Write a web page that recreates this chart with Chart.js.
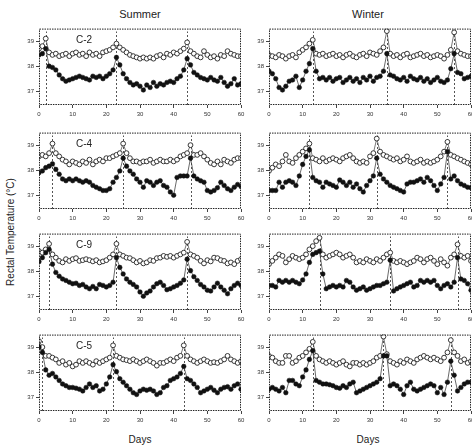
<!DOCTYPE html>
<html><head><meta charset="utf-8">
<script src="https://cdn.jsdelivr.net/npm/chart.js@4.4.1/dist/chart.umd.min.js"></script>
<style>
html,body{margin:0;padding:0;background:#fff;width:472px;height:448px;overflow:hidden;position:relative;font-family:"Liberation Sans",Arial,sans-serif;}
canvas{position:absolute;}
.t{position:absolute;color:#222;white-space:nowrap;transform:translate(-50%,-50%);}
</style></head><body>
<div class="t" style="left:140px;top:14px;font-size:11px;">Summer</div>
<div class="t" style="left:368px;top:14px;font-size:11px;">Winter</div>
<div class="t" style="left:140px;top:439px;font-size:10px;">Days</div>
<div class="t" style="left:368px;top:439px;font-size:10px;">Days</div>
<div class="t" style="left:10px;top:232px;font-size:10px;transform:translate(-50%,-50%) rotate(-90deg);">Rectal Temperature (°C)</div>
<script>
// ---------- data ----------
const days = Array.from({length:61},(_,i)=>i);
const xTicks = [0,10,20,30,40,50,60];
const yTicks = [37,38,39];
const panelLabels = ['C-2','','C-4','','C-9','','C-5',''];

const c2SummerOpen = [38.7,38.8,39.1,38.55,38.45,38.5,38.4,38.45,38.5,38.4,38.5,38.55,38.45,38.5,38.4,38.55,38.45,38.5,38.4,38.55,38.6,38.65,38.75,38.9,38.75,38.65,38.55,38.45,38.4,38.35,38.3,38.35,38.3,38.35,38.3,38.4,38.45,38.35,38.5,38.45,38.55,38.5,38.6,38.7,38.95,38.6,38.5,38.4,38.35,38.6,38.45,38.35,38.4,38.3,38.45,38.4,38.6,38.5,38.45,38.4,38.4];
const c2SummerFilled = [38.45,38.5,38.7,38.0,37.95,37.85,37.65,37.5,37.4,37.45,37.5,37.55,37.6,37.55,37.5,37.45,37.6,37.55,37.6,37.5,37.6,37.7,37.85,38.35,38.05,37.7,37.5,37.35,37.25,37.3,37.2,37.05,37.25,37.15,37.35,37.2,37.3,37.25,37.35,37.4,37.35,37.5,37.6,37.85,38.3,38.05,37.75,37.65,37.55,37.5,37.45,37.55,37.45,37.4,37.55,37.35,37.2,37.3,37.5,37.25,37.3];
const c2SummerEstrus = [2,23,44];

const c2WinterOpen = [38.45,38.4,38.35,38.45,38.4,38.3,38.4,38.45,38.35,38.55,38.65,38.75,38.9,39.05,38.5,38.45,38.5,38.4,38.45,38.5,38.4,38.45,38.35,38.45,38.5,38.4,38.35,38.45,38.5,38.4,38.55,38.5,38.45,38.6,38.75,39.4,38.5,38.4,38.45,38.35,38.45,38.5,38.35,38.4,38.45,38.5,38.4,38.45,38.35,38.4,38.45,38.4,38.3,38.45,38.65,39.35,38.6,38.5,38.45,38.4,38.4];
const c2WinterFilled = [37.8,37.7,37.5,37.15,37.05,37.2,37.4,37.45,37.6,37.15,37.45,37.8,38.1,38.7,37.8,37.5,37.55,37.45,37.55,37.4,37.5,37.55,37.35,37.45,37.55,37.4,37.5,37.35,37.55,37.45,37.6,37.4,37.55,37.6,37.8,38.5,37.65,37.6,37.5,37.45,37.55,37.4,37.6,37.5,37.45,37.55,37.4,37.5,37.35,37.45,37.55,37.4,37.35,37.45,37.9,38.5,37.75,37.7,37.5,37.55,37.6];
const c2WinterEstrus = [13,35,55];

const c4SummerOpen = [38.55,38.61,38.55,38.68,39.06,38.68,38.55,38.42,38.35,38.23,38.35,38.29,38.23,38.35,38.29,38.42,38.23,38.35,38.42,38.35,38.48,38.48,38.55,38.61,38.68,39.06,38.68,38.48,38.35,38.35,38.29,38.35,38.35,38.42,38.29,38.35,38.42,38.35,38.35,38.42,38.35,38.42,38.55,38.61,38.68,39.0,38.61,38.61,38.68,38.55,38.42,38.29,38.23,38.35,38.23,38.42,38.35,38.29,38.42,38.48,38.48];
const c4SummerFilled = [37.9,37.97,38.1,38.16,38.25,38.03,37.84,37.65,37.58,37.65,37.58,37.65,37.58,37.52,37.58,37.52,37.39,37.32,37.26,37.19,37.19,37.26,37.52,37.71,37.97,38.48,38.16,37.97,37.84,37.65,37.52,37.32,37.58,37.52,37.39,37.52,37.58,37.39,37.32,37.13,37.0,37.71,37.77,37.77,37.77,38.48,37.77,37.65,37.58,37.52,37.19,37.13,37.19,37.3,37.52,37.39,37.26,37.19,37.32,37.43,37.35];
const c4SummerEstrus = [4,25,45];

const c4WinterOpen = [37.97,38.1,38.23,38.16,38.35,38.61,38.35,38.29,38.48,38.61,38.74,38.87,39.06,38.48,38.42,38.35,38.48,38.35,38.42,38.48,38.42,38.35,38.48,38.55,38.61,38.48,38.35,38.29,38.35,38.29,38.55,38.68,39.26,38.74,38.61,38.55,38.48,38.42,38.48,38.35,38.42,38.55,38.35,38.29,38.35,38.42,38.29,38.35,38.29,38.35,38.42,38.55,38.74,39.13,38.61,38.55,38.48,38.42,38.35,38.29,38.23];
const c4WinterFilled = [37.19,37.19,37.19,37.52,37.32,37.52,37.58,37.52,37.39,37.77,38.23,38.55,38.81,37.71,37.58,37.52,37.32,37.52,37.45,37.39,37.32,37.61,37.52,37.39,37.52,37.32,37.45,37.26,37.13,37.39,37.58,37.77,38.48,37.84,37.65,37.52,37.39,37.32,37.26,37.19,37.13,37.45,37.52,37.52,37.58,37.65,37.52,37.71,37.58,37.39,37.19,37.45,37.71,38.74,37.65,37.77,37.58,37.45,37.39,37.32,37.3];
const c4WinterEstrus = [12,32,53];

const c9SummerOpen = [38.8,38.74,38.87,39.09,38.67,38.54,38.41,38.35,38.48,38.41,38.48,38.52,38.41,38.44,38.48,38.44,38.39,38.44,38.35,38.39,38.44,38.54,38.67,39.09,38.67,38.61,38.54,38.52,38.44,38.35,38.41,38.31,38.35,38.44,38.41,38.52,38.54,38.61,38.57,38.61,38.54,38.61,38.67,38.74,39.17,38.67,38.61,38.54,38.41,38.31,38.44,38.39,38.54,38.52,38.44,38.41,38.31,38.35,38.28,38.41,38.48];
const c9SummerFilled = [38.38,38.54,38.74,38.87,38.28,37.95,37.8,37.69,37.63,37.56,37.5,37.52,37.43,37.47,37.37,37.3,37.39,37.3,37.47,37.43,37.37,37.43,37.56,38.54,38.15,37.89,37.69,37.56,37.47,37.37,37.17,37.0,37.13,37.21,37.37,37.5,37.56,37.43,37.26,37.3,37.37,37.43,37.52,37.65,38.48,38.02,37.78,37.63,37.47,37.37,37.24,37.21,37.37,37.52,37.37,37.24,37.1,37.3,37.43,37.52,37.43];
const c9SummerEstrus = [3,23,44];

const c9WinterOpen = [38.28,38.41,38.54,38.67,38.61,38.35,38.48,38.61,38.54,38.48,38.54,38.67,38.87,39.0,39.2,39.33,38.67,38.54,38.61,38.67,38.74,38.67,38.54,38.61,38.67,38.54,38.35,38.41,38.35,38.48,38.41,38.35,38.48,38.41,38.54,38.67,38.74,38.41,38.35,38.41,38.35,38.28,38.35,38.41,38.54,38.48,38.35,38.48,38.54,38.41,38.28,38.48,38.35,38.22,38.54,38.67,39.07,38.61,38.54,38.61,38.41];
const c9WinterFilled = [37.43,37.43,37.37,37.63,37.56,37.63,37.56,37.63,37.56,37.5,37.65,37.89,38.35,38.67,38.74,38.8,37.89,37.3,37.37,37.43,37.37,37.43,37.37,37.63,37.56,37.37,37.24,37.3,37.37,37.24,37.3,37.37,37.43,37.43,37.5,37.56,38.44,37.21,37.3,37.37,37.43,37.5,37.56,37.37,37.43,37.63,37.56,37.63,37.56,37.63,37.43,37.3,37.43,37.5,37.37,37.56,38.54,37.69,37.63,37.5,37.24];
const c9WinterEstrus = [15,36,56];

const c5SummerOpen = [39.24,39.0,38.65,38.65,38.58,38.51,38.37,38.44,38.3,38.37,38.23,38.3,38.44,38.37,38.44,38.37,38.3,38.44,38.37,38.44,38.51,38.58,39.07,38.65,38.58,38.51,38.48,38.44,38.51,38.44,38.37,38.44,38.51,38.44,38.37,38.26,38.37,38.37,38.44,38.51,38.44,38.58,38.65,39.07,38.65,38.51,38.44,38.37,38.44,38.51,38.44,38.37,38.4,38.37,38.44,38.51,38.65,38.51,38.44,38.37,38.44];
const c5SummerFilled = [39.0,38.79,38.09,37.88,37.95,37.81,37.67,37.53,37.46,37.39,37.39,37.36,37.32,37.25,37.39,37.53,37.39,37.46,37.25,37.32,37.53,37.81,38.3,38.02,37.74,37.6,37.46,37.32,37.18,37.11,37.25,37.32,37.28,37.32,37.25,37.11,37.18,37.39,37.46,37.67,37.74,37.81,37.95,38.23,37.74,37.67,37.53,37.39,37.18,37.25,37.32,37.39,37.28,37.18,37.32,37.39,37.42,37.32,37.46,37.53,37.32];
const c5SummerEstrus = [1,22,43];

const c5WinterOpen = [38.65,38.58,38.44,38.37,38.37,38.65,38.65,38.37,38.44,38.58,38.65,38.79,38.93,39.21,38.65,38.51,38.44,38.37,38.44,38.37,38.3,38.37,38.44,38.3,38.23,38.37,38.37,38.3,38.37,38.3,38.37,38.44,38.58,38.65,39.42,38.72,38.44,38.37,38.3,38.44,38.37,38.51,38.44,38.37,38.51,38.58,38.65,38.58,38.51,38.58,38.51,38.44,38.58,38.79,39.28,38.79,38.65,38.44,38.51,38.37,38.44];
const c5WinterFilled = [37.32,37.39,37.32,37.25,37.39,37.18,37.67,37.67,37.53,37.46,37.81,38.09,38.51,38.86,37.67,37.6,37.53,37.53,37.5,37.46,37.39,37.36,37.46,37.39,37.53,37.6,37.18,37.25,37.32,37.39,37.46,37.53,37.6,37.74,38.65,38.65,37.46,37.53,37.46,37.32,37.11,37.46,37.6,37.32,37.25,37.32,37.39,37.46,37.53,37.46,37.18,37.39,37.11,37.6,38.44,37.88,37.25,37.39,37.53,37.6,37.6];
const c5WinterEstrus = [13,34,54];

// ---------- layout ----------
const panels = [
  {open:c2SummerOpen, filled:c2SummerFilled, estrus:c2SummerEstrus, col:0,row:0},
  {open:c2WinterOpen, filled:c2WinterFilled, estrus:c2WinterEstrus, col:1,row:0},
  {open:c4SummerOpen, filled:c4SummerFilled, estrus:c4SummerEstrus, col:0,row:1},
  {open:c4WinterOpen, filled:c4WinterFilled, estrus:c4WinterEstrus, col:1,row:1},
  {open:c9SummerOpen, filled:c9SummerFilled, estrus:c9SummerEstrus, col:0,row:2},
  {open:c9WinterOpen, filled:c9WinterFilled, estrus:c9WinterEstrus, col:1,row:2},
  {open:c5SummerOpen, filled:c5SummerFilled, estrus:c5SummerEstrus, col:0,row:3},
  {open:c5WinterOpen, filled:c5WinterFilled, estrus:c5WinterEstrus, col:1,row:3},
];
const colLeft=[39,269], rowTop=[28,132,233,334], PW=202, PH=77;
const YW=22, PT=5, PR=8, XH=15;

const deco = {
  id:'panelDeco',
  beforeDatasetsDraw(chart,args,opts){
    const {ctx,chartArea:a,scales:{x}}=chart;
    ctx.save();
    ctx.strokeStyle='#555'; ctx.lineWidth=1; ctx.setLineDash([2,2]);
    (opts.estrus||[]).forEach(d=>{
      const px=Math.round(x.getPixelForValue(d))+0.5;
      ctx.beginPath(); ctx.moveTo(px,a.bottom); ctx.lineTo(px,a.top+3); ctx.stroke();
    });
    ctx.restore();
  },
  afterDraw(chart,args,opts){
    const {ctx,chartArea:a}=chart;
    ctx.save();
    ctx.strokeStyle='#222'; ctx.lineWidth=1; ctx.setLineDash([1.5,1]);
    ctx.strokeRect(a.left+0.5,a.top+0.5,a.width-1,a.height-1);
    ctx.setLineDash([]);
    ctx.fillStyle='#222'; ctx.font='10px "Liberation Sans", Arial, sans-serif';
    ctx.textAlign='center'; ctx.textBaseline='middle';
    if(opts.label) ctx.fillText(opts.label,a.left+45,a.top+12);
    ctx.restore();
  }
};
Chart.register(deco);

panels.forEach((p,i)=>{
  const cv=document.createElement('canvas');
  const w=YW+PW+PR, h=PT+PH+XH;
  cv.width=w; cv.height=h;
  cv.style.left=(colLeft[p.col]-YW)+'px';
  cv.style.top=(rowTop[p.row]-PT)+'px';
  cv.style.width=w+'px'; cv.style.height=h+'px';
  document.body.appendChild(cv);
  const pts=arr=>days.map((d,k)=>({x:d,y:arr[k]}));
  new Chart(cv,{
    type:'line',
    data:{datasets:[
      {data:pts(p.filled),borderColor:'#444',borderWidth:0.8,pointRadius:2.3,pointBackgroundColor:'#111',pointBorderColor:'#111',pointBorderWidth:0.5,tension:0},
      {data:pts(p.open),borderColor:'#555',borderWidth:0.8,pointRadius:2.4,pointBackgroundColor:'#fff',pointBorderColor:'#222',pointBorderWidth:0.9,tension:0},
    ]},
    options:{
      responsive:false,animation:false,devicePixelRatio:1,
      layout:{padding:{top:PT,right:PR,left:0,bottom:0}},
      plugins:{legend:{display:false},tooltip:{enabled:false},panelDeco:{estrus:p.estrus,label:panelLabels[i]}},
      scales:{
        x:{type:'linear',min:0,max:60,
          afterBuildTicks:s=>{s.ticks=xTicks.map(v=>({value:v}));},
          afterFit:s=>{s.height=XH;},
          grid:{drawOnChartArea:false,drawTicks:true,tickLength:3,color:'#444'},
          border:{display:false},
          ticks:{font:{size:6,family:'"Liberation Sans", Arial'},color:'#333',maxRotation:0,autoSkip:false,padding:3}},
        y:{min:36.45,max:39.5,
          afterBuildTicks:s=>{s.ticks=yTicks.map(v=>({value:v}));},
          afterFit:s=>{s.width=YW;},
          grid:{drawOnChartArea:false,drawTicks:true,tickLength:3,color:'#444'},
          border:{display:false},
          ticks:{font:{size:6,family:'"Liberation Sans", Arial'},color:'#333',padding:2}}
      }
    }
  });
});
</script>
</body></html>
